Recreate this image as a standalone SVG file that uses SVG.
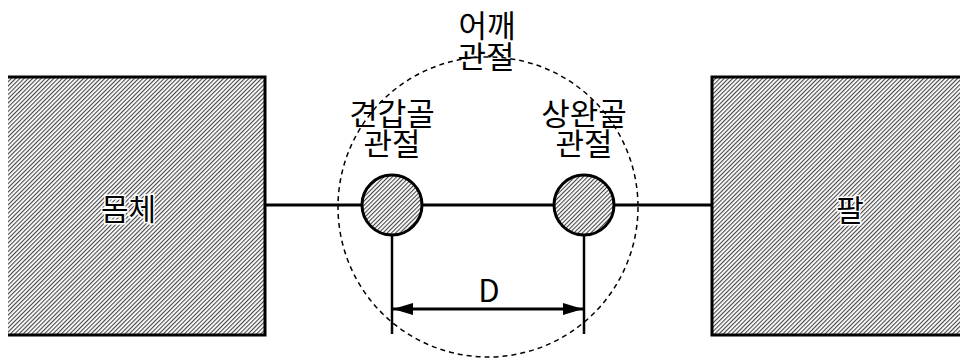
<svg xmlns="http://www.w3.org/2000/svg" width="960" height="362" viewBox="0 0 960 362">
<defs>
<pattern id="hatch" width="3" height="3" patternUnits="userSpaceOnUse" patternTransform="rotate(45)">
<rect width="3" height="3" fill="#fff"/>
<line x1="0.6" y1="0" x2="0.6" y2="3" stroke="#333" stroke-width="1"/>
</pattern>
<marker id="arr" viewBox="0 0 20 12" refX="20" refY="6" markerWidth="20" markerHeight="12" markerUnits="userSpaceOnUse" orient="auto-start-reverse">
<path d="M0,0 L20,6 L0,12 Z" fill="#000"/>
</marker>
</defs>
<style>
.t{font-family:"Noto Sans CJK KR","Noto Sans",sans-serif;font-size:31px;fill:#000;text-anchor:middle}
.h{paint-order:stroke;stroke:#fff;stroke-width:3px;font-size:30px}
.border{fill:none;stroke:#000;stroke-width:3}
.ln{stroke:#000;fill:none}
</style>
<g id="connectors">
<line class="ln" x1="265" y1="205" x2="712" y2="205" stroke-width="3"/>
<line class="ln" x1="392" y1="236" x2="392" y2="334" stroke-width="2.5"/>
<line class="ln" x1="584" y1="236" x2="584" y2="334" stroke-width="2.5"/>
<line class="ln" x1="393" y1="309" x2="583" y2="309" stroke-width="3" marker-start="url(#arr)" marker-end="url(#arr)"/>
<text class="t" x="489" y="302">D</text>
</g>
<g id="shoulder">
<circle cx="488" cy="207" r="150" fill="none" stroke="#000" stroke-width="1.5" stroke-dasharray="5,4"/>
<text class="t"><tspan x="487" y="37">어깨</tspan><tspan x="486" y="68">관절</tspan></text>
</g>
<g id="body">
<rect x="8" y="77" width="257" height="258" fill="url(#hatch)"/>
<path class="border" d="M8,77 H265 V335 H8"/>
<text class="t h" x="128.5" y="220">몸체</text>
</g>
<g id="arm">
<rect x="712" y="77" width="250" height="258" fill="url(#hatch)"/>
<path class="border" d="M962,77 H712 V335 H962"/>
<text class="t h" x="850" y="221">팔</text>
</g>
<g id="scapula">
<circle cx="392" cy="205" r="30" fill="url(#hatch)" stroke="#000" stroke-width="3"/>
<text class="t"><tspan x="392" y="125">견갑골</tspan><tspan x="392" y="155">관절</tspan></text>
</g>
<g id="humerus">
<circle cx="584" cy="205" r="30" fill="url(#hatch)" stroke="#000" stroke-width="3"/>
<text class="t"><tspan x="584" y="125">상완골</tspan><tspan x="584" y="155">관절</tspan></text>
</g>
</svg>
